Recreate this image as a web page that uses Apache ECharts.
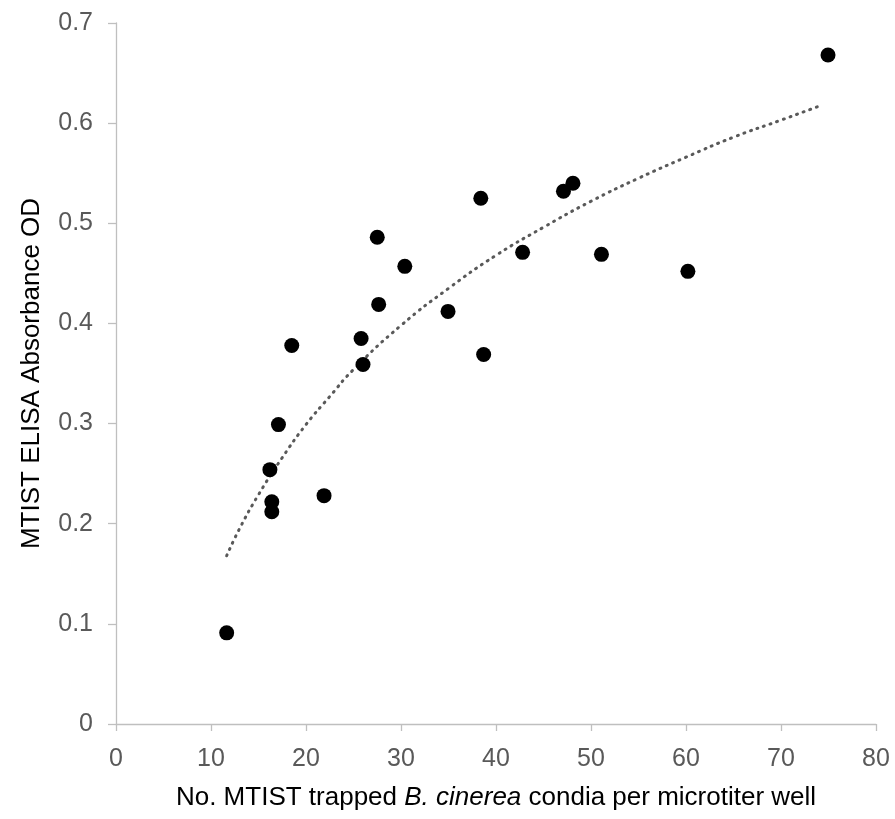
<!DOCTYPE html>
<html>
<head>
<meta charset="utf-8">
<script src="https://cdn.jsdelivr.net/npm/echarts@6/dist/echarts.min.js"></script>
<style>html,body{margin:0;padding:0;background:#fff}#c{width:895px;height:819px}</style>
</head>
<body>
<div id="c"></div>
<script>
// Observed points (conidia count, absorbance OD)
const conidia = [11.65, 16.2, 16.4, 16.4, 17.1, 18.5, 21.9, 25.8, 26.0, 27.5, 27.65, 30.4, 34.95, 38.4, 38.7, 42.8, 47.1, 48.1, 51.1, 60.2, 74.95];
const absorbance = [0.091, 0.254, 0.222, 0.212, 0.299, 0.378, 0.228, 0.385, 0.359, 0.486, 0.419, 0.457, 0.412, 0.525, 0.369, 0.471, 0.532, 0.540, 0.469, 0.452, 0.668];
// Dotted trendline
const trendX = [11.65, 13, 15, 17.5, 20, 22.5, 25, 30, 35, 40, 45, 50, 55, 60, 65, 70, 74.3];
const trendY = [0.168, 0.195, 0.229, 0.266, 0.299, 0.327, 0.354, 0.398, 0.435, 0.468, 0.496, 0.522, 0.545, 0.566, 0.586, 0.603, 0.618];
const xTicks = [0, 10, 20, 30, 40, 50, 60, 70, 80];
const yTicks = [0, 0.1, 0.2, 0.3, 0.4, 0.5, 0.6, 0.7];

const chart = echarts.init(document.getElementById('c'));
const font = 'Liberation Sans, Arial, sans-serif';
chart.setOption({
  animation: false,
  grid: {left: 116, right: 19, top: 23, bottom: 95},
  xAxis: {
    type: 'value', min: xTicks[0], max: xTicks[xTicks.length - 1], interval: 10,
    axisLine: {show: true, lineStyle: {color: '#bfbfbf', width: 1.3}},
    axisTick: {show: true, length: 7, lineStyle: {color: '#bfbfbf', width: 1.3}},
    splitLine: {show: false},
    axisLabel: {color: '#595959', fontSize: 25, fontFamily: font, margin: 23},
    name: '{n|No. MTIST trapped }{i|B. cinerea}{n| condia per microtiter well}',
    nameLocation: 'middle', nameGap: 61,
    nameTextStyle: {
      rich: {
        n: {fontSize: 26, color: '#000', fontFamily: font},
        i: {fontSize: 26, color: '#000', fontFamily: font, fontStyle: 'italic'}
      }
    }
  },
  yAxis: {
    type: 'value', min: yTicks[0], max: yTicks[yTicks.length - 1], interval: 0.1,
    axisLine: {show: true, lineStyle: {color: '#bfbfbf', width: 1.3}},
    axisTick: {show: true, length: 8, lineStyle: {color: '#bfbfbf', width: 1.3}},
    splitLine: {show: false},
    axisLabel: {color: '#595959', fontSize: 25, fontFamily: font, margin: 23,
      formatter: v => String(Math.round(v * 10) / 10)},
    name: 'MTIST ELISA Absorbance OD',
    nameLocation: 'middle', nameGap: 71, nameRotate: 90,
    nameTextStyle: {fontSize: 26, color: '#000', fontFamily: font}
  },
  series: [
    {
      type: 'line', data: trendX.map((x, i) => [x, trendY[i]]),
      smooth: true, symbol: 'none', z: 1,
      lineStyle: {color: '#595959', width: 3, type: [1, 6], cap: 'round'}
    },
    {
      type: 'scatter', data: conidia.map((x, i) => [x, absorbance[i]]),
      symbol: 'circle', symbolSize: 15, z: 2,
      itemStyle: {color: '#000', opacity: 1}
    }
  ]
});
</script>
</body>
</html>
